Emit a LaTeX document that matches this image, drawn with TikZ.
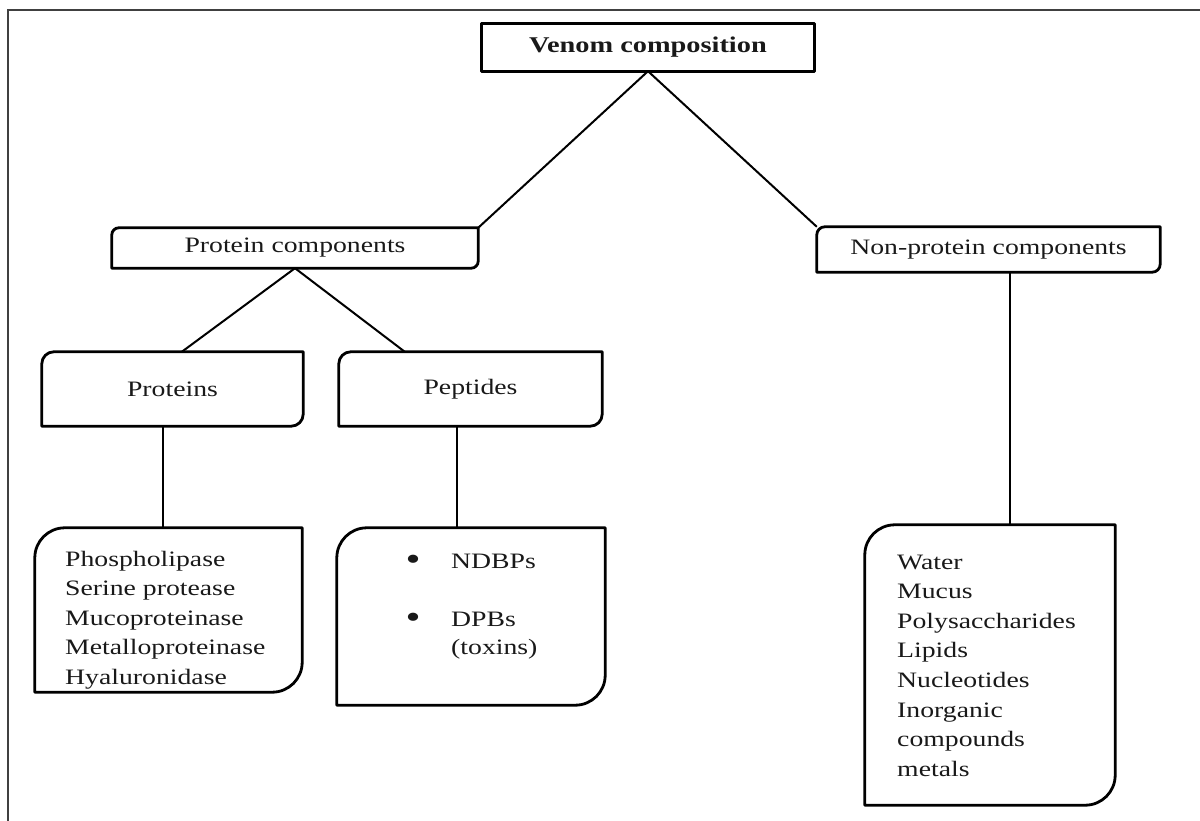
\documentclass[tikz,border=0pt]{standalone}
\usepackage{fontspec}
\setmainfont{Liberation Serif}[FakeStretch=1.26]
\usetikzlibrary{calc}
\newcommand\mydbox[2]{%
  \draw[boxline] ([xshift=#2]#1.north west) -- (#1.north east) -- ([yshift=#2]#1.south east)
    arc[start angle=0,end angle=-90,radius=#2] -- (#1.south west) -- ([yshift=-#2]#1.north west)
    arc[start angle=180,end angle=90,radius=#2] -- cycle;}
\newcommand\listtext[2]{\parbox[t]{#1}{\raggedright\fontsize{22}{29.6}\selectfont #2}}
\begin{document}
\begin{tikzpicture}[x=1pt,y=-1pt,
  boxline/.style={line width=2.8pt, line join=round},
  conn/.style={line width=2pt},
  frameline/.style={line width=2.8pt, draw=black!75},
  holder/.style={rectangle, inner sep=0pt, font=\fontsize{22}{30}\selectfont, text=black!90},
  listlbl/.style={inner sep=0pt, anchor=base west, text=black!90}
]
\useasboundingbox (0,0) rectangle (1200,821);
% frame
\draw[frameline] (8,821) -- (8,10) -- (1200,10);

% boxes
\node[holder, minimum width=332pt, minimum height=47pt, font=\fontsize{22.5}{30}\selectfont\bfseries] (venom) at (648,47.5) {Venom composition};
\draw[boxline] (venom.south west) rectangle (venom.north east);

\node[holder, minimum width=366pt, minimum height=40pt] (prot) at (295,248) {Protein components};
\mydbox{prot}{7pt}
\node[holder, minimum width=343pt, minimum height=45pt] (nonprot) at (988.5,249.5) {Non-protein components};
\mydbox{nonprot}{8pt}

\node[holder, minimum width=261pt, minimum height=74pt] (proteins) at (172.5,389) {Proteins};
\mydbox{proteins}{12pt}
\node[holder, minimum width=263pt, minimum height=74pt] (peptides) at (470.5,389) {Peptides};
\mydbox{peptides}{12pt}

\node[holder, minimum width=267pt, minimum height=164pt] (list1) at (168.5,610) {};
\mydbox{list1}{30pt}
\node[holder, minimum width=268pt, minimum height=177pt] (list2) at (471,616.5) {};
\mydbox{list2}{30pt}
\node[holder, minimum width=250pt, minimum height=280pt] (list3) at (990,665) {};
\mydbox{list3}{30pt}

% list texts
\node[listlbl] (t1) at (65,566) {\listtext{230pt}{Phospholipase\\Serine protease\\Mucoproteinase\\Metalloproteinase\\Hyaluronidase}};
\node[listlbl, anchor=base] (b1) at (413,570) {\fontsize{34}{30}\selectfont\textbullet};
\node[listlbl, anchor=base] (b2) at (413,628) {\fontsize{34}{30}\selectfont\textbullet};
\node[listlbl] (t2a) at (451,568) {\listtext{140pt}{NDBPs}};
\node[listlbl] (t2b) at (451,626) {\listtext{140pt}{DPBs\\[-1.2pt](toxins)}};
\node[listlbl] (t3) at (897,569) {\listtext{210pt}{Water\\Mucus\\Polysaccharides\\Lipids\\Nucleotides\\Inorganic\\compounds\\metals}};

% connectors
\draw[conn] (venom.south) -- (prot.north east);
\draw[conn] (venom.south) -- (nonprot.north west);
\draw[conn] (prot.south) -- ([xshift=140pt]proteins.north west);
\draw[conn] (prot.south) -- ([xshift=66pt]peptides.north west);
\draw[conn] ([xshift=-9.5pt]proteins.south) -- ([xshift=-9.5pt]proteins.south |- list1.north);
\draw[conn] ([xshift=-13.5pt]peptides.south) -- ([xshift=-13.5pt]peptides.south |- list2.north);
\draw[conn] ([xshift=21.5pt]nonprot.south) -- ([xshift=21.5pt]nonprot.south |- list3.north);
\end{tikzpicture}
\end{document}
